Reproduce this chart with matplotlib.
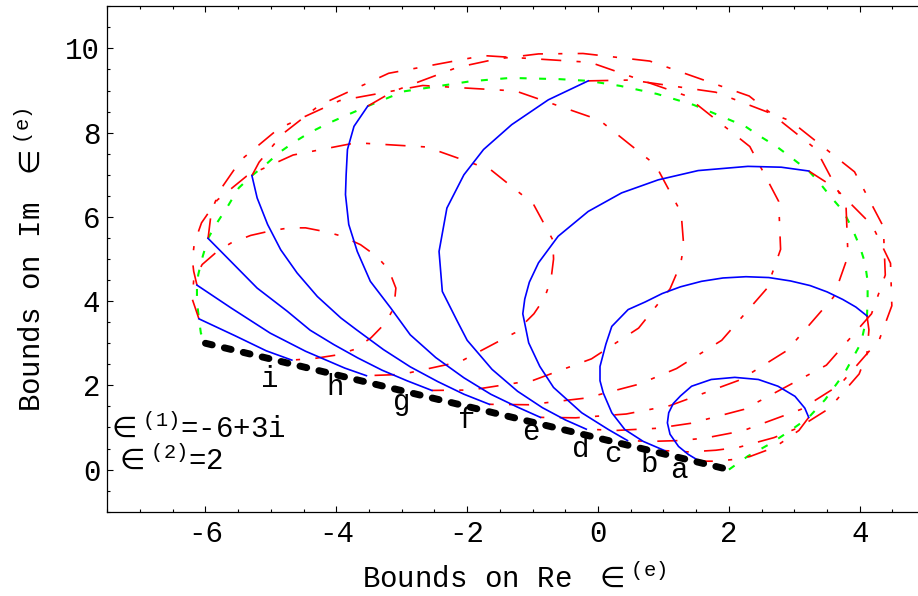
import matplotlib
matplotlib.use("Agg")
import matplotlib.pyplot as plt
from matplotlib.ticker import MultipleLocator

plt.rcParams["font.family"] = ["Liberation Mono", "DejaVu Sans Mono"]
plt.rcParams["mathtext.fontset"] = "dejavusans"
plt.rcParams["axes.unicode_minus"] = False
plt.rcParams["lines.scale_dashes"] = False

# component permittivities (Re, Im)
eps_1 = (-6.0, 3.0)
eps_2 = (2.0, 0.0)

# outer bound, volume fraction unknown (green)
outer_bound = [
    (2.00, 0.00), (2.29, 0.32), (2.65, 0.63), (2.96, 0.95), (3.22, 1.24),
    (3.47, 1.66), (3.77, 2.30), (4.02, 3.01), (4.11, 3.65), (4.12, 3.99),
    (4.12, 4.47), (4.08, 4.91), (4.00, 5.30), (3.88, 5.74), (3.75, 6.13),
    (3.55, 6.49), (3.37, 6.84), (3.22, 7.09), (2.96, 7.40), (2.73, 7.67),
    (2.48, 7.91), (2.25, 8.15), (1.71, 8.50), (1.46, 8.66), (0.90, 8.92),
    (0.34, 9.11), (-0.15, 9.23), (-0.58, 9.27), (-1.34, 9.30), (-1.95, 9.22),
    (-2.46, 9.10), (-2.97, 8.98), (-3.52, 8.63), (-3.88, 8.39), (-4.14, 8.21),
    (-4.42, 7.99), (-4.65, 7.77), (-4.88, 7.52), (-5.08, 7.24), (-5.29, 6.98),
    (-5.49, 6.69), (-5.66, 6.25), (-5.84, 5.82), (-5.96, 5.49), (-6.05, 5.02),
    (-6.11, 4.63), (-6.13, 4.38), (-6.13, 3.99), (-6.10, 3.58), (-6.07, 3.24),
    (-6.00, 3.00),
]

# bounds for fixed volume fraction, solid arcs (blue)
blue_a = [(1.53, 0.22), (1.38, 0.36), (1.23, 0.55), (1.10, 0.84), (1.06, 1.11),
          (1.08, 1.35), (1.15, 1.57), (1.26, 1.75), (1.43, 1.98), (1.73, 2.14),
          (2.09, 2.19), (2.45, 2.14), (2.75, 1.98), (3.01, 1.74), (3.16, 1.46),
          (3.22, 1.24)]
blue_b = [(1.02, 0.45), (0.69, 0.67), (0.41, 0.95), (0.21, 1.35), (0.08, 1.82),
          (0.03, 2.11), (0.03, 2.45), (0.12, 2.98), (0.21, 3.40), (0.46, 3.80),
          (0.72, 3.98), (0.98, 4.18), (1.26, 4.34), (1.58, 4.47), (1.91, 4.55),
          (2.26, 4.58), (2.61, 4.56), (2.94, 4.48), (3.24, 4.37), (3.50, 4.22),
          (3.74, 4.04), (3.94, 3.86), (4.11, 3.65)]
blue_c = [(0.45, 0.69), (0.16, 0.95), (-0.25, 1.35), (-0.68, 1.95), (-0.89, 2.45),
          (-1.06, 3.01), (-1.15, 3.70), (-1.12, 4.05), (-1.05, 4.45), (-0.91, 4.91),
          (-0.61, 5.54), (-0.15, 6.13), (0.36, 6.57), (0.92, 6.88), (1.53, 7.10),
          (2.29, 7.20), (2.80, 7.18), (3.22, 7.09)]
blue_d = [(-0.18, 0.96), (-0.50, 1.18), (-0.85, 1.47), (-1.23, 1.86), (-1.62, 2.38),
          (-2.00, 3.07), (-2.15, 3.52), (-2.38, 4.23), (-2.43, 5.18), (-2.31, 6.21),
          (-2.05, 7.00), (-1.75, 7.60), (-1.32, 8.19), (-0.76, 8.78), (-0.15, 9.23)]
blue_e = [(-0.88, 1.24), (-1.24, 1.49), (-1.64, 1.79), (-2.05, 2.18), (-2.48, 2.66),
          (-2.87, 3.20), (-3.17, 3.84), (-3.48, 4.47), (-3.68, 5.18), (-3.81, 5.82),
          (-3.86, 6.53), (-3.85, 7.00), (-3.83, 7.60), (-3.73, 8.15), (-3.52, 8.63)]
blue_f = [(-1.66, 1.55), (-2.05, 1.79), (-2.45, 2.09), (-2.87, 2.44), (-3.28, 2.85),
          (-3.70, 3.33), (-3.93, 3.60), (-4.29, 4.11), (-4.60, 4.67), (-4.85, 5.22),
          (-5.05, 5.82), (-5.21, 6.45), (-5.29, 6.98)]
blue_g = [(-2.54, 1.88), (-2.92, 2.11), (-3.30, 2.36), (-3.67, 2.65), (-4.04, 2.97),
          (-4.40, 3.31), (-4.75, 3.76), (-5.21, 4.31), (-5.61, 4.94), (-5.96, 5.49)]
blue_h = [(-3.54, 2.23), (-3.87, 2.41), (-4.17, 2.61), (-4.47, 2.81), (-5.01, 3.24),
          (-5.61, 3.84), (-6.13, 4.38)]
blue_i = [(-4.68, 2.60), (-5.07, 2.82), (-5.55, 3.18), (-6.10, 3.58)]

# companion arcs for the same volume fractions (red, dash-dot)
red_a = [(3.22, 1.24), (3.07, 0.93), (2.70, 0.53), (2.32, 0.31), (2.07, 0.24),
         (1.80, 0.20), (1.65, 0.20), (1.53, 0.22)]
red_b = [(4.11, 3.65), (4.14, 3.32), (4.11, 2.75), (3.99, 2.27), (3.53, 1.45),
         (3.07, 1.00), (2.69, 0.76), (2.15, 0.53), (1.80, 0.46), (1.39, 0.42),
         (1.02, 0.45)]
red_c = [(3.22, 7.09), (3.62, 6.69), (4.19, 5.80), (4.47, 4.90), (4.49, 3.89),
         (4.30, 3.09), (3.70, 2.02), (3.10, 1.43), (2.21, 0.92), (1.64, 0.75),
         (1.26, 0.69), (0.80, 0.67), (0.45, 0.69)]
red_d = [(-0.15, 9.23), (0.50, 9.25), (1.80, 8.96), (2.94, 8.28), (3.92, 7.07),
         (4.36, 5.77), (4.39, 4.62), (4.18, 3.70), (3.49, 2.48), (2.23, 1.43),
         (1.42, 1.10), (0.89, 0.98), (0.28, 0.93), (-0.18, 0.96)]
red_e = [(-3.52, 8.63), (-3.13, 8.98), (-2.15, 9.55), (-1.55, 9.75), (-0.91, 9.87),
         (-0.23, 9.88), (0.79, 9.70), (2.31, 8.87), (3.33, 7.61), (3.79, 6.26),
         (3.82, 5.07), (3.60, 4.10), (2.89, 2.83), (2.17, 2.13), (1.10, 1.52),
         (0.43, 1.32), (-0.34, 1.23), (-0.88, 1.24)]
red_f = [(-5.29, 6.98), (-5.18, 7.30), (-4.82, 7.97), (-4.26, 8.65), (-3.20, 9.41),
         (-1.75, 9.83), (-0.12, 9.67), (1.34, 8.88), (2.32, 7.67), (2.76, 6.37),
         (2.79, 5.23), (2.58, 4.30), (1.89, 3.07), (1.20, 2.40), (0.63, 2.03),
         (-0.18, 1.70), (-1.06, 1.54), (-1.66, 1.55)]
red_g = [(-5.96, 5.49), (-5.91, 6.13), (-5.78, 6.63), (-5.46, 7.35), (-4.88, 8.10),
         (-3.95, 8.76), (-2.68, 9.12), (-1.26, 8.99), (0.02, 8.30), (0.88, 7.23),
         (1.27, 6.10), (1.31, 5.30), (1.26, 4.87), (1.10, 4.29), (0.62, 3.36),
         (-0.10, 2.63), (-0.99, 2.12), (-1.94, 1.89), (-2.54, 1.88)]
red_h = [(-6.13, 4.38), (-6.18, 4.71), (-6.20, 4.98), (-6.17, 5.38), (-6.06, 5.86),
         (-5.82, 6.40), (-5.37, 6.97), (-4.66, 7.47), (-3.70, 7.76), (-2.62, 7.66),
         (-1.64, 7.12), (-0.99, 6.31), (-0.69, 5.45), (-0.68, 5.00), (-0.72, 4.50),
         (-0.82, 4.07), (-0.98, 3.70), (-1.27, 3.25), (-2.11, 2.56), (-3.00, 2.26),
         (-3.54, 2.23)]
red_i = [(-6.10, 3.58), (-6.20, 4.04), (-6.18, 4.50), (-6.05, 4.87), (-5.82, 5.18),
         (-5.61, 5.38), (-5.31, 5.56), (-5.00, 5.67), (-4.72, 5.74), (-4.47, 5.74),
         (-4.14, 5.64), (-3.91, 5.54), (-3.63, 5.34), (-3.38, 5.06), (-3.20, 4.75),
         (-3.09, 4.31), (-3.12, 3.84), (-3.25, 3.48), (-3.47, 3.13), (-3.73, 2.85),
         (-4.00, 2.72), (-4.33, 2.64), (-4.68, 2.60)]

fraction_labels = ["a", "b", "c", "d", "e", "f", "g", "h", "i"]


def xy(points):
    return [p[0] for p in points], [p[1] for p in points]


fig = plt.figure(figsize=(9.18, 5.96), dpi=100)
ax = fig.add_axes([0.1169, 0.1414, 0.8831, 0.848])

ax.plot(*xy(outer_bound), color="#00ff00", lw=1.5, ls=(0, (5, 9)), zorder=1)

for arc in [red_a, red_b, red_c, red_d, red_e, red_f, red_g, red_h, red_i]:
    ax.plot(*xy(arc), color="#ff0000", lw=1.2, ls=(0, (14.5, 11, 3, 11)), zorder=2)

for arc in [blue_a, blue_b, blue_c, blue_d, blue_e, blue_f, blue_g, blue_h, blue_i]:
    ax.plot(*xy(arc), color="#0000ff", lw=1.2, zorder=3)

ax.plot([eps_1[0], eps_2[0]], [eps_1[1], eps_2[1]], color="black", lw=5,
        ls=(0, (5, 9)), dash_capstyle="round", zorder=4)

# letters sit just below where each blue arc leaves the straight segment
label_pos = [(1.23, -0.21), (0.78, -0.05), (0.23, 0.19), (-0.27, 0.31),
             (-1.02, 0.70), (-2.01, 0.98), (-3.00, 1.42), (-4.02, 1.77),
             (-5.01, 1.97)]
for letter, (lx, ly) in zip(fraction_labels, label_pos):
    ax.text(lx, ly, letter, fontsize=21, ha="center", va="baseline", zorder=5)

ax.text(-7.52, 0.78, r"$\in^{\mathregular{(1)}}$=-6+3i", fontsize=21,
        ha="left", va="baseline", zorder=5)
ax.text(-7.40, 0.03, r"$\in^{\mathregular{(2)}}$=2", fontsize=21,
        ha="left", va="baseline", zorder=5)

ax.set_xlim(-7.5, 4.89)
ax.set_ylim(-1, 11)
ax.xaxis.set_major_locator(MultipleLocator(2))
ax.xaxis.set_minor_locator(MultipleLocator(0.5))
ax.yaxis.set_major_locator(MultipleLocator(2))
ax.yaxis.set_minor_locator(MultipleLocator(0.5))
ax.tick_params(which="both", direction="in", top=True, right=False,
               width=0.8, labelsize=21)
ax.tick_params(which="major", length=4.5)
ax.tick_params(which="minor", length=2.5)
ax.tick_params(axis="x", pad=6)
ax.tick_params(axis="y", pad=5)
ax.spines["right"].set_visible(False)
for side in ["left", "bottom", "top"]:
    ax.spines[side].set_linewidth(0.9)

fig.text(361.7 / 918, 9 / 596, r"Bounds on Re $\,\in^{\mathregular{(e)}}$",
         fontsize=21, ha="left", va="baseline")
fig.text(40 / 918, (596 - 412) / 596, r"Bounds on Im $\,\in^{\mathregular{(e)}}$",
         fontsize=21, ha="left", va="baseline", rotation=90, rotation_mode="anchor")

fig.savefig("out.png", dpi=100)
